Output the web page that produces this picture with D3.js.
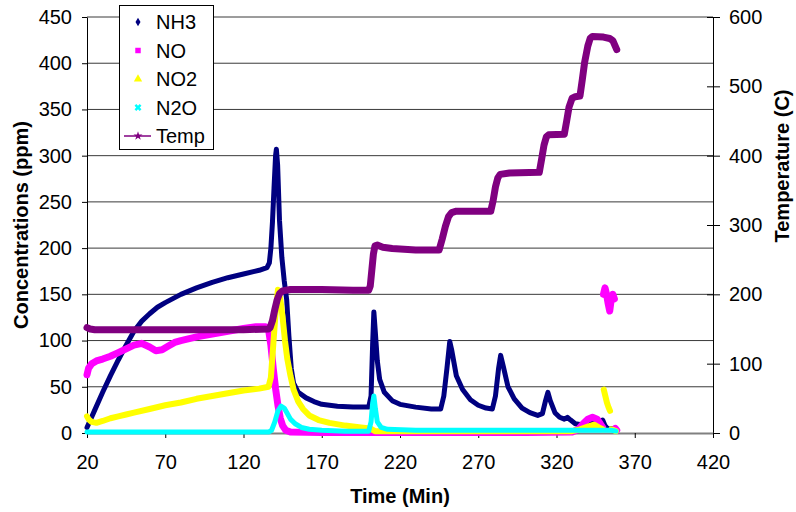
<!DOCTYPE html>
<html>
<head>
<meta charset="utf-8">
<script src="https://cdn.jsdelivr.net/npm/d3@7"></script>
<style>
  body { margin: 0; background: #fff; }
  text { font-family: Arial, "Liberation Sans", sans-serif; }
</style>
</head>
<body>
<div id="chart"></div>
<script>
// chart size
const width = 796, height = 512;

// series: [time (min), value]; null value = gap in the marker trail
const nh3 = [[20,6],[25,25],[30,44],[35,62],[40,79],[45,95],[50,110],[55,121],[60,129],[65,136],[70,141],[80,150],[90,157],[100,163],[110,168],[120,172],[130,176],[135,179],[136.5,184],[137.5,200],[138.5,228],[139.5,265],[140.5,300],[141,307],[141.8,290],[143,230],[144.5,190],[146,165],[147.6,144],[149,105],[150.5,70],[152,54],[155,44],[160,38],[165,34],[170,31],[180,29],[190,28],[200,28],[201.5,40],[202.5,95],[203.3,131],[204.2,110],[205.5,78],[207,58],[210,44],[215,35],[220,31],[230,28],[240,26],[246,26],[248,40],[250,70],[251.8,99],[253,90],[256,62],[260,47],[265,36],[270,30],[275,27],[279,26],[281,40],[283,70],[284.3,84],[286,72],[289,50],[293,37],[298,27],[303,22],[308,19],[311,21],[313,35],[314.5,44],[316,35],[319,22],[322,17],[325,15],[327,17],[329,14],[332,10],[336,9],[340,10],[344,13],[347,12],[349.5,14],[351,8],[353,4],[356,5],[358,4]];

const no = [[20,63],[21,70],[23,75],[26,78],[30,80],[35,83],[40,87],[45,91],[50,95],[55,97],[60,93],[64,89],[68,90],[72,94],[76,98],[80,100],[90,104],[100,107],[110,110],[120,113],[128,115],[134,115],[136,112],[137.5,95],[139,70],[140.5,48],[142,30],[143.5,16],[145,8],[147,3],[150,1],[170,0.5],[200,0.5],[250,0.5],[300,0.5],[330,1],[334,4],[337,10],[340,15],[343,17],[346,15],[348,10],[349.5,6],[349.8,null],[350,150],[351,157],[352,150],[353,140],[354,132],[355,145],[356,150],[357,145],[357.2,null],[357.5,5],[358.5,3]];

const no2 = [[20,18],[21,15],[23,12],[26,11],[30,13],[35,16],[40,18],[45,20],[50,22],[60,26],[70,30],[80,33],[90,37],[100,40],[110,43],[120,46],[130,48],[136,50],[137.5,60],[139,95],[140.5,130],[142,155],[143.5,145],[145,125],[146.5,100],[148,80],[150,62],[152,47],[155,34],[158,26],[162,19],[168,14],[175,11],[185,8],[195,6],[201,5],[204,2],[210,2],[250,2],[300,2],[330,2],[335,4],[340,7],[344,9],[347,6],[349.5,4],[349.8,null],[350.2,47],[351.2,40],[352.2,33],[353.2,28],[354.2,24],[354.5,null],[355,4],[358,2]];

const n2o = [[20,1],[40,1],[60,1],[80,1],[100,1],[120,1],[136,1],[138,3],[140,12],[142,24],[144,29],[146,27],[148,21],[150,15],[153,10],[157,6],[162,4],[170,3],[185,2],[200,2],[201.5,12],[202.5,32],[203.3,40],[204.3,26],[205.5,12],[208,6],[212,4],[230,3],[260,3],[300,3],[330,3],[345,3],[355,3],[358,2]];

const temp = [[20,152],[22,150],[25,149],[40,149],[60,149],[80,149],[100,149],[120,149],[136,150],[137,152],[138.5,162],[140,178],[141.5,192],[143,201],[145,205],[150,207],[170,207],[190,206],[200,206],[201,212],[202,235],[203,258],[204,270],[205.5,271],[209,268],[215,266],[230,264],[245,264],[247,280],[249,298],[251,312],[253,318],[256,320],[270,320],[278,320],[279.5,335],[281,355],[282.5,368],[284,373],[290,375],[309,376],[310.5,395],[312,415],[313.5,427],[315,430],[325,431],[326.5,450],[328,470],[330,483],[332,485],[335,486],[336.5,510],[338,535],[340,558],[341.5,569],[343,572],[350,571],[354,569],[356,566],[358.5,553]];

// tick labels
const xTicks = [20, 70, 120, 170, 220, 270, 320, 370, 420];
const yTicks = [0, 50, 100, 150, 200, 250, 300, 350, 400, 450];
const y2Ticks = [0, 100, 200, 300, 400, 500, 600];

const series = [
  { name: 'NH3', data: nh3, color: '#000080', width: 5, symbol: d3.symbolDiamond, size: 22 },
  { name: 'NO', data: no, color: '#FF00FF', width: 7, symbol: d3.symbolSquare, size: 30 },
  { name: 'NO2', data: no2, color: '#FFFF00', width: 6, symbol: d3.symbolTriangle, size: 30 },
  { name: 'N2O', data: n2o, color: '#00FFFF', width: 5, symbol: d3.symbolCross, size: 30, rotate: 45 },
  { name: 'Temp', data: temp, color: '#800080', width: 7, symbol: d3.symbolStar, size: 25, secondary: true }
];

const plot = { left: 87, right: 713, top: 17, bottom: 433 };
const fontSize = 20;

const svg = d3.select('#chart')
  .append('svg')
  .attr('width', width)
  .attr('height', height)
  .style('display', 'block');

const x = d3.scaleLinear().domain([20, 420]).range([plot.left, plot.right]);
const y = d3.scaleLinear().domain([0, 450]).range([plot.bottom, plot.top]);
const y2 = d3.scaleLinear().domain([0, 600]).range([plot.bottom, plot.top]);

// horizontal gridlines
svg.append('g')
  .selectAll('line')
  .data(yTicks.filter((d) => d > 0))
  .join('line')
  .attr('x1', plot.left)
  .attr('x2', plot.right)
  .attr('y1', (d) => y(d))
  .attr('y2', (d) => y(d))
  .attr('stroke', '#3a3a3a')
  .attr('stroke-width', 1);

// left axis
const gLeft = svg.append('g')
  .attr('transform', `translate(${plot.left},0)`)
  .call(d3.axisLeft(y).tickValues(yTicks).tickSize(5).tickSizeOuter(0).tickPadding(10));

// right axis, ticks cross the line
const gRight = svg.append('g')
  .attr('transform', `translate(${plot.right},0)`)
  .call(d3.axisRight(y2).tickValues(y2Ticks).tickSize(7).tickSizeOuter(0).tickPadding(9));
gRight.selectAll('.tick line').attr('x1', -6);

// bottom axis
const gBottom = svg.append('g')
  .attr('transform', `translate(0,${plot.bottom})`)
  .call(d3.axisBottom(x).tickValues(xTicks).tickSize(5).tickSizeOuter(0).tickPadding(17));

[gLeft, gRight, gBottom].forEach((g) => {
  g.selectAll('text').attr('font-size', fontSize).attr('fill', '#000').attr('font-family', 'Arial, "Liberation Sans", sans-serif');
  g.selectAll('line').attr('stroke', '#000');
  g.select('.domain').attr('stroke', '#000');
});
gBottom.select('.domain').attr('stroke', '#808080').attr('stroke-width', 2);

// series as dense marker trails (thick lines)
const lineFor = (s) => d3.line()
  .defined((d) => d[1] != null)
  .x((d) => x(d[0]))
  .y((d) => (s.secondary ? y2 : y)(d[1]));

svg.append('g')
  .selectAll('path')
  .data(series)
  .join('path')
  .attr('d', (s) => lineFor(s)(s.data))
  .attr('fill', 'none')
  .attr('stroke', (s) => s.color)
  .attr('stroke-width', (s) => s.width)
  .attr('stroke-linejoin', 'round')
  .attr('stroke-linecap', 'round');

// axis titles
svg.append('text')
  .attr('x', 400).attr('y', 503)
  .attr('text-anchor', 'middle')
  .attr('font-size', fontSize).attr('font-weight', 'bold')
  .text('Time (Min)');

svg.append('text')
  .attr('transform', 'translate(28,225) rotate(-90)')
  .attr('text-anchor', 'middle')
  .attr('font-size', fontSize).attr('font-weight', 'bold')
  .text('Concentrations (ppm)');

svg.append('text')
  .attr('transform', 'translate(789,166) rotate(-90)')
  .attr('text-anchor', 'middle')
  .attr('font-size', fontSize).attr('font-weight', 'bold')
  .text('Temperature (C)');

// legend
const legend = svg.append('g');
legend.append('rect')
  .attr('x', 119.5).attr('y', 5.5)
  .attr('width', 94).attr('height', 144)
  .attr('fill', '#fff').attr('stroke', '#000');

const item = legend.selectAll('g.item')
  .data(series)
  .join('g')
  .attr('class', 'item')
  .attr('transform', (d, i) => `translate(0,${22 + i * 28.5})`);

item.filter((d) => d.secondary)
  .append('line')
  .attr('x1', 124).attr('x2', 151)
  .attr('stroke', (d) => d.color).attr('stroke-width', 1.5);

item.append('path')
  .attr('d', (d) => d3.symbol().type(d.symbol).size(d.size)())
  .attr('transform', (d) => `translate(138,0) rotate(${d.rotate || 0})`)
  .attr('fill', (d) => d.color);

item.append('text')
  .attr('x', 156).attr('dy', '0.36em')
  .attr('font-size', fontSize)
  .text((d) => d.name);
</script>
</body>
</html>
